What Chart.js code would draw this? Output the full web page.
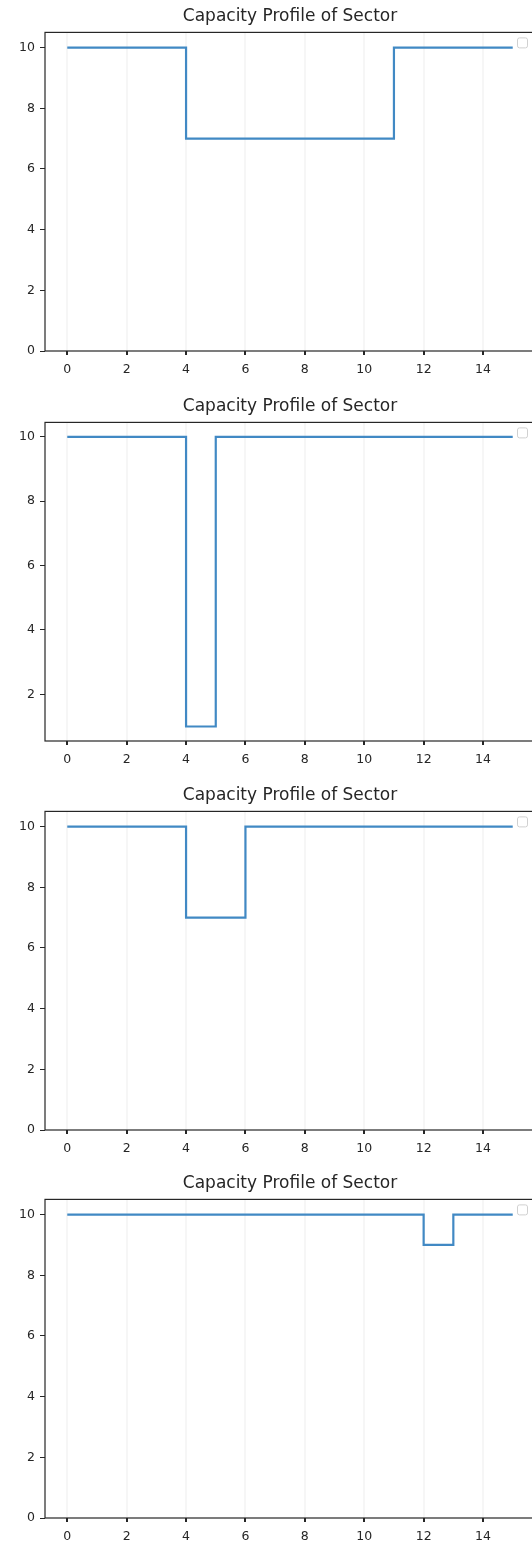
<!DOCTYPE html>
<html>
<head>
<meta charset="utf-8">
<script src="https://cdn.jsdelivr.net/npm/chart.js@4/dist/chart.umd.min.js"></script>
<style>
  html, body { margin: 0; padding: 0; background: #ffffff; overflow: hidden; }
  body { width: 532px; height: 1547px; position: relative; }
  .panel { position: absolute; left: 0; }
</style>
</head>
<body>
<div class="panel" style="top:0px"><canvas id="c0" width="535" height="386"></canvas></div>
<div class="panel" style="top:390px"><canvas id="c1" width="535" height="386"></canvas></div>
<div class="panel" style="top:779px"><canvas id="c2" width="535" height="386"></canvas></div>
<div class="panel" style="top:1167px"><canvas id="c3" width="535" height="386"></canvas></div>
<script>
// Time steps (hours) and the sector capacity held from each step to the next
const hours = [0, 1, 2, 3, 4, 5, 6, 7, 8, 9, 10, 11, 12, 13, 14, 15];
const capacityA = [10, 10, 10, 10, 7, 7, 7, 7, 7, 7, 7, 10, 10, 10, 10, 10];
const capacityB = [10, 10, 10, 10, 1, 10, 10, 10, 10, 10, 10, 10, 10, 10, 10, 10];
const capacityC = [10, 10, 10, 10, 7, 7, 10, 10, 10, 10, 10, 10, 10, 10, 10, 10];
const capacityD = [10, 10, 10, 10, 10, 10, 10, 10, 10, 10, 10, 10, 9, 10, 10, 10];

const xTicks = [0, 2, 4, 6, 8, 10, 12, 14];
const yTicks = [0, 2, 4, 6, 8, 10];
const titleText = 'Capacity Profile of Sector';

// y limits per panel
const yLimitsA = [0, 10.5];
const yLimitsB = [0.55, 10.45];
const yLimitsC = [0, 10.5];
const yLimitsD = [0, 10.5];

const FONT = 'DejaVu Sans';
const INK = '#262626';

// Frame around the plot area plus the small empty legend box in its corner
const framePlugin = {
  id: 'frame',
  afterDraw(chart) {
    const a = chart.chartArea;
    const ctx = chart.ctx;
    ctx.save();
    ctx.strokeStyle = INK;
    ctx.lineWidth = 1.2;
    ctx.strokeRect(a.left, a.top, a.right - a.left, a.bottom - a.top);
    ctx.strokeStyle = '#d0d0d0';
    ctx.lineWidth = 1;
    ctx.fillStyle = 'rgba(255,255,255,0.8)';
    const bx = a.right - 17.5, by = a.top + 5.5, s = 10, r = 2;
    ctx.beginPath();
    ctx.moveTo(bx + r, by);
    ctx.arcTo(bx + s, by, bx + s, by + s, r);
    ctx.arcTo(bx + s, by + s, bx, by + s, r);
    ctx.arcTo(bx, by + s, bx, by, r);
    ctx.arcTo(bx, by, bx + s, by, r);
    ctx.closePath();
    ctx.fill();
    ctx.stroke();
    ctx.restore();
  }
};

function makePanel(id, values, limits) {
  const points = hours.map((h, i) => ({ x: h, y: values[i] }));
  return new Chart(document.getElementById(id), {
    type: 'line',
    data: {
      datasets: [{
        data: points,
        stepped: 'before',
        borderColor: '#4189c4',
        borderWidth: 2.2,
        pointRadius: 0,
        fill: false,
        tension: 0
      }]
    },
    options: {
      responsive: false,
      animation: false,
      devicePixelRatio: 1,
      layout: { padding: 0 },
      plugins: {
        legend: { display: false },
        tooltip: { enabled: false },
        title: {
          display: true,
          text: titleText,
          fullSize: false,
          color: INK,
          font: { family: FONT, size: 17, weight: 'normal' },
          padding: { top: 6, bottom: 6 }
        }
      },
      scales: {
        x: {
          type: 'linear',
          min: -0.75,
          max: 15.75,
          afterBuildTicks(scale) { scale.ticks = xTicks.map(v => ({ value: v })); },
          afterFit(scale) { scale.height = 35; },
          border: { display: false },
          grid: {
            color: 'rgba(0,0,0,0.035)',
            lineWidth: 2,
            tickColor: INK,
            tickLength: 4,
            drawTicks: true
          },
          ticks: {
            color: INK,
            font: { family: FONT, size: 12.5 },
            padding: 7,
            maxRotation: 0,
            autoSkip: false
          }
        },
        y: {
          min: limits[0],
          max: limits[1],
          afterBuildTicks(scale) {
            scale.ticks = yTicks.filter(v => v >= limits[0] && v <= limits[1]).map(v => ({ value: v }));
          },
          afterFit(scale) { scale.width = 45; },
          border: { display: false },
          grid: {
            drawOnChartArea: false,
            tickColor: INK,
            tickLength: 5,
            drawTicks: true
          },
          ticks: {
            color: INK,
            font: { family: FONT, size: 12.5 },
            padding: 5,
            autoSkip: false
          }
        }
      }
    },
    plugins: [framePlugin]
  });
}

makePanel('c0', capacityA, yLimitsA);
makePanel('c1', capacityB, yLimitsB);
makePanel('c2', capacityC, yLimitsC);
makePanel('c3', capacityD, yLimitsD);
</script>
</body>
</html>
